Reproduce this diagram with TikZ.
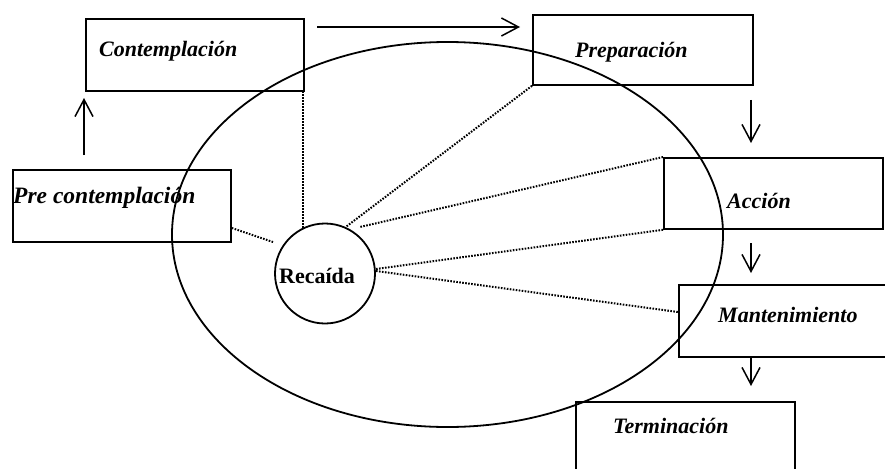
\documentclass[tikz,border=0pt]{standalone}
\usepackage{fontspec}
\setmainfont{Liberation Serif}
\usetikzlibrary{arrows.meta,shapes.geometric}
\tikzset{
  stagebox/.style={draw, line width=1.8pt, rectangle, inner sep=0pt, anchor=north west},
  stagetext/.style={anchor=base west, inner sep=0pt, font=\fontsize{22}{26}\selectfont\bfseries\itshape},
  dotline/.style={line width=2pt, dash pattern=on 1.6pt off 1.4pt},
  flow/.style={line width=1.5pt, -{Straight Barb[length=17pt, width=18pt, line width=1.5pt]}},
}
\begin{document}
\begin{tikzpicture}[x=1pt, y=-1pt]
\useasboundingbox (0,0) rectangle (885,468);
\clip (0,0) rectangle (885,468);
% boxes
\node[stagebox, minimum width=218pt, minimum height=72pt] (contB) at (85,18) {};
\node[stagebox, minimum width=218pt, minimum height=72pt] (preB) at (12,169) {};
\node[stagebox, minimum width=220pt, minimum height=70pt] (prepB) at (532,14) {};
\node[stagebox, minimum width=219pt, minimum height=71pt] (accB) at (663,157) {};
\node[stagebox, minimum width=230pt, minimum height=72pt] (manB) at (678,284) {};
\node[stagebox, minimum width=219pt, minimum height=100pt] (terB) at (575,401) {};
% texts
\node[stagetext] (contT) at (99,57) {Contemplación};
\node[stagetext, font=\fontsize{23.5}{28}\selectfont\bfseries\itshape] (preT) at (13,203) {Pre contemplación};
\node[stagetext] (prepT) at (575,58) {Preparación};
\node[stagetext] (accT) at (727,208) {Acción};
\node[stagetext] (manT) at (718,322) {Mantenimiento};
\node[stagetext] (terT) at (613,433) {Terminación};
% ellipse
\node[draw, line width=1.8pt, ellipse, minimum width=551pt, minimum height=385pt, inner sep=0pt] (ell) at (447.5,234.5) {};
% relapse circle
\node[draw, line width=1.8pt, circle, minimum size=100pt, inner sep=0pt] (rec) at (325,273.5) {};
\node[anchor=base west, inner sep=0pt, font=\fontsize{22}{26}\selectfont\bfseries] (recT) at (279,283) {Recaída};
% flow arrows
\coordinate (a1s) at (317,27);
\coordinate (a1e) at (520,27);
\coordinate (a2s) at (84,155);
\coordinate (a2e) at (84,98);
\coordinate (a3s) at (751,100);
\coordinate (a3e) at (751,143);
\coordinate (a4s) at (751,243);
\coordinate (a4e) at (751,273);
\coordinate (a5s) at (751,358);
\coordinate (a5e) at (751,386);
\draw[flow] (a1s) -- (a1e);
\draw[flow] (a2s) -- (a2e);
\draw[flow] (a3s) -- (a3e);
\draw[flow] (a4s) -- (a4e);
\draw[flow] (a5s) -- (a5e);
% dotted links
\coordinate (pe) at (273,242);
\coordinate (ae) at (360,227);
\coordinate (be) at (376,269);
\coordinate (me) at (376,271);
\draw[dotline] (rec.116) -- (rec.116 |- contB.south);
\draw[dotline] (preB.east |- 0,228) -- (pe);
\draw[dotline] (prepB.south west) -- (rec.66);
\draw[dotline] (accB.north west) -- (ae);
\draw[dotline] (accB.south west) -- (be);
\draw[dotline] (me) -- (manB.west |- 0,312);
\end{tikzpicture}
\end{document}
